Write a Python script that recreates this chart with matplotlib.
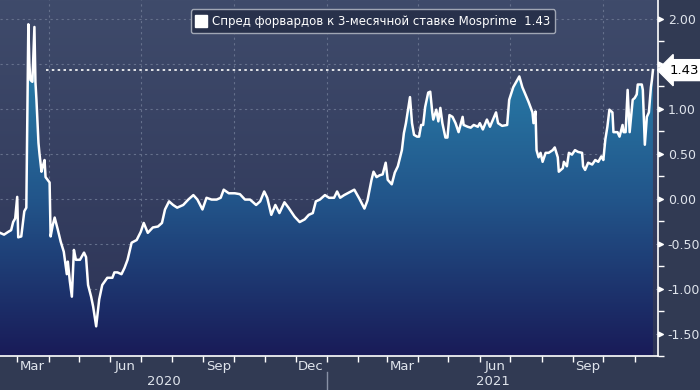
# Forward spread vs 3-month Mosprime, Bloomberg-style area chart
import numpy as np
import pandas as pd
import matplotlib
matplotlib.use('Agg')
import matplotlib.pyplot as plt
import matplotlib.dates as mdates
from matplotlib.colors import LinearSegmentedColormap
from matplotlib.transforms import blended_transform_factory
from matplotlib.lines import Line2D
from matplotlib.patches import Polygon

dates = [
    '2020-02-13', '2020-02-17', '2020-02-21', '2020-02-24', '2020-02-26', '2020-02-28',
    '2020-03-01', '2020-03-02', '2020-03-05', '2020-03-08', '2020-03-10', '2020-03-12',
    '2020-03-13', '2020-03-14', '2020-03-16', '2020-03-18', '2020-03-19', '2020-03-20',
    '2020-03-22', '2020-03-23', '2020-03-25', '2020-03-26', '2020-03-28', '2020-03-29',
    '2020-03-31', '2020-04-02', '2020-04-03', '2020-04-05', '2020-04-07', '2020-04-10',
    '2020-04-13', '2020-04-16', '2020-04-19', '2020-04-20', '2020-04-22', '2020-04-24',
    '2020-04-26', '2020-04-28', '2020-05-02', '2020-05-06', '2020-05-08', '2020-05-10',
    '2020-05-13', '2020-05-15', '2020-05-18', '2020-05-21', '2020-05-24', '2020-05-29',
    '2020-06-03', '2020-06-05', '2020-06-08', '2020-06-12', '2020-06-15', '2020-06-18',
    '2020-06-22', '2020-06-27', '2020-07-01', '2020-07-04', '2020-07-08', '2020-07-13',
    '2020-07-18', '2020-07-22', '2020-07-25', '2020-07-29', '2020-08-02', '2020-08-06',
    '2020-08-12', '2020-08-17', '2020-08-22', '2020-08-26', '2020-08-31', '2020-09-04',
    '2020-09-09', '2020-09-14', '2020-09-18', '2020-09-21', '2020-09-26', '2020-10-02',
    '2020-10-07', '2020-10-12', '2020-10-17', '2020-10-23', '2020-10-27', '2020-10-31',
    '2020-11-03', '2020-11-07', '2020-11-11', '2020-11-15', '2020-11-20', '2020-11-24',
    '2020-11-30', '2020-12-05', '2020-12-10', '2020-12-14', '2020-12-18', '2020-12-21',
    '2020-12-25', '2020-12-30', '2021-01-03', '2021-01-08', '2021-01-11', '2021-01-14',
    '2021-01-18', '2021-01-23', '2021-01-28', '2021-02-02', '2021-02-07', '2021-02-10',
    '2021-02-14', '2021-02-16', '2021-02-19', '2021-02-22', '2021-02-25', '2021-02-28',
    '2021-03-02', '2021-03-06', '2021-03-09', '2021-03-12', '2021-03-16', '2021-03-18',
    '2021-03-20', '2021-03-24', '2021-03-26', '2021-03-28', '2021-03-31', '2021-04-02',
    '2021-04-04', '2021-04-06', '2021-04-08', '2021-04-11', '2021-04-13', '2021-04-15',
    '2021-04-16', '2021-04-19', '2021-04-21', '2021-04-23', '2021-04-25', '2021-04-28',
    '2021-04-30', '2021-05-02', '2021-05-05', '2021-05-08', '2021-05-11', '2021-05-15',
    '2021-05-16', '2021-05-20', '2021-05-23', '2021-05-26', '2021-05-30', '2021-06-01',
    '2021-06-04', '2021-06-08', '2021-06-11', '2021-06-14', '2021-06-17', '2021-06-19',
    '2021-06-23', '2021-06-28', '2021-06-30', '2021-07-04', '2021-07-08', '2021-07-10',
    '2021-07-13', '2021-07-16', '2021-07-19', '2021-07-23', '2021-07-24', '2021-07-26',
    '2021-07-27', '2021-07-29', '2021-07-31', '2021-08-02', '2021-08-05', '2021-08-08',
    '2021-08-12', '2021-08-14', '2021-08-17', '2021-08-18', '2021-08-22', '2021-08-23',
    '2021-08-26', '2021-08-28', '2021-08-31', '2021-09-03', '2021-09-06', '2021-09-10',
    '2021-09-11', '2021-09-13', '2021-09-16', '2021-09-20', '2021-09-23', '2021-09-26',
    '2021-09-29', '2021-10-01', '2021-10-03', '2021-10-05', '2021-10-07', '2021-10-10',
    '2021-10-11', '2021-10-15', '2021-10-17', '2021-10-20', '2021-10-21', '2021-10-23',
    '2021-10-25', '2021-10-27', '2021-10-30', '2021-11-01', '2021-11-03', '2021-11-04',
    '2021-11-08', '2021-11-09', '2021-11-11', '2021-11-13', '2021-11-15', '2021-11-17',
    '2021-11-18', '2021-11-19',
]
values = [
    -0.38, -0.40, -0.37, -0.35, -0.26, -0.22,
    0.02, -0.43, -0.42, -0.14, -0.10, 1.94,
    1.50, 1.32, 1.30, 1.91, 1.30, 1.10,
    0.62, 0.50, 0.30, 0.35, 0.43, 0.24,
    0.21, 0.18, -0.42, -0.30, -0.21, -0.34,
    -0.48, -0.59, -0.84, -0.70, -0.92, -1.09,
    -0.57, -0.68, -0.68, -0.60, -0.65, -0.96,
    -1.09, -1.20, -1.42, -1.12, -0.96, -0.88,
    -0.88, -0.82, -0.82, -0.84, -0.77, -0.68,
    -0.49, -0.46, -0.37, -0.27, -0.38, -0.32,
    -0.31, -0.27, -0.12, -0.03, -0.07, -0.10,
    -0.07, -0.01, 0.04, -0.01, -0.12, 0.01,
    -0.01, -0.01, 0.01, 0.10, 0.06, 0.06,
    0.05, -0.01, -0.01, -0.07, -0.03, 0.08,
    0.01, -0.18, -0.07, -0.16, -0.04, -0.10,
    -0.20, -0.26, -0.23, -0.18, -0.16, -0.03,
    -0.01, 0.04, 0.01, 0.01, 0.08, 0.01,
    0.04, 0.07, 0.10, 0.00, -0.11, -0.02,
    0.21, 0.30, 0.24, 0.26, 0.27, 0.40,
    0.21, 0.16, 0.29, 0.36, 0.54, 0.73,
    0.84, 1.13, 0.84, 0.71, 0.69, 0.69,
    0.82, 0.82, 1.02, 1.18, 1.19, 0.96,
    0.88, 0.99, 0.86, 1.01, 0.84, 0.68,
    0.68, 0.93, 0.91, 0.84, 0.74, 0.91,
    0.82, 0.80, 0.79, 0.82, 0.80, 0.84,
    0.77, 0.88, 0.80, 0.88, 0.96, 0.84,
    0.81, 0.82, 1.10, 1.24, 1.32, 1.36,
    1.24, 1.16, 1.08, 0.96, 0.84, 0.97,
    0.54, 0.46, 0.51, 0.41, 0.51, 0.51,
    0.54, 0.57, 0.46, 0.30, 0.34, 0.41,
    0.36, 0.51, 0.49, 0.54, 0.52, 0.51,
    0.36, 0.32, 0.40, 0.38, 0.43, 0.41,
    0.47, 0.43, 0.66, 0.80, 0.99, 0.96,
    0.74, 0.74, 0.69, 0.82, 0.74, 0.74,
    1.21, 0.74, 1.10, 1.12, 1.16, 1.27,
    1.27, 1.21, 0.60, 0.91, 0.96, 1.24,
    1.32, 1.43,
]
series_name = 'Спред форвардов к 3-месячной ставке Mosprime'
last_value = values[-1]
y_ticks = [-1.5, -1.0, -0.5, 0.0, 0.5, 1.0, 1.5, 2.0]

x = pd.to_datetime(dates)
xn = mdates.date2num(x)
x_start = mdates.date2num(pd.Timestamp('2020-02-13'))
x_end = mdates.date2num(pd.Timestamp('2021-11-24'))
y_min, y_max = -1.745, 2.21

fig_bg = '#313a53'
text_col = '#dfe4ec'
fig = plt.figure(figsize=(7, 3.9), dpi=100, facecolor=fig_bg)
ax = fig.add_axes([0, 34 / 390, 658 / 700, 356 / 390])
ax.set_facecolor('#363f5e')

# background gradient
bg_cmap = LinearSegmentedColormap.from_list('bg', ['#2c3356', '#3f4b6b'])
grad = np.linspace(0, 1, 256).reshape(-1, 1)
ax.imshow(grad, extent=[x_start, x_end, y_min, y_max], origin='lower',
          aspect='auto', cmap=bg_cmap, zorder=0)

# area gradient clipped to the series
fill_cmap = LinearSegmentedColormap.from_list(
    'fill', [(0.0, '#191b58'), (0.44, '#22558a'), (1.0, '#2b8fb6')])
im = ax.imshow(grad, extent=[x_start, x_end, y_min, y_max], origin='lower',
               aspect='auto', cmap=fill_cmap, zorder=2)
verts = np.column_stack([np.r_[xn[0], xn, xn[-1]], np.r_[y_min, values, y_min]])
clip = Polygon(verts, closed=True, transform=ax.transData, facecolor='none', edgecolor='none')
ax.add_patch(clip)
im.set_clip_path(clip)

# grid
grid_col = '#65708c'
for yv in y_ticks:
    ax.axhline(yv, color=grid_col, lw=0.8, ls=(0, (2, 3)), zorder=1)
for d in ['2020-04-01', '2020-07-01', '2020-10-01', '2021-01-01',
          '2021-04-01', '2021-07-01', '2021-10-01']:
    ax.axvline(pd.Timestamp(d), color=grid_col, lw=0.8, ls=(0, (2, 3)), zorder=1)

ax.plot(x, values, color='white', lw=1.8, zorder=4)

# last value reference line
ax.plot([pd.Timestamp('2020-03-29'), x[-1]], [last_value, last_value],
        color='white', lw=1.2, ls=(0, (1.5, 2)), zorder=3)

ax.set_xlim(x_start, x_end)
ax.set_ylim(y_min, y_max)

for s in ['top', 'left']:
    ax.spines[s].set_visible(False)
ax.spines['bottom'].set_color('white')
ax.spines['right'].set_color('white')
ax.spines['bottom'].set_linewidth(1.2)
ax.spines['right'].set_linewidth(1.2)

# y axis on the right
ax.yaxis.tick_right()
ax.set_yticks(y_ticks)
ax.set_yticklabels([f'{v:.2f}' for v in y_ticks])
ax.set_yticks(np.arange(-1.75, 2.01, 0.25), minor=True)
ax.tick_params(axis='y', which='major', length=0, pad=7, labelsize=9, labelcolor=text_col)
ax.tick_params(axis='y', which='minor', length=4, width=1, color='white', direction='out')
trans_y = blended_transform_factory(ax.transAxes, ax.transData)
ax.plot([1.0] * len(y_ticks), y_ticks, ls='none', transform=trans_y, clip_on=False,
        marker=[(0, -1), (0, 1), (2, 0), (0, -1)], markersize=7, color='white', zorder=5)

# x axis: month ticks, quarter labels in the middle of the month
ax.xaxis.set_major_locator(mdates.MonthLocator())
ax.xaxis.set_major_formatter(plt.NullFormatter())
ax.xaxis.set_minor_locator(mdates.MonthLocator(bymonth=[3, 6, 9, 12], bymonthday=16))
ax.xaxis.set_minor_formatter(mdates.DateFormatter('%b'))
ax.tick_params(axis='x', which='major', length=4, width=1, color='white', direction='out')
ax.tick_params(axis='x', which='minor', length=0, pad=3, labelsize=9.5, labelcolor=text_col)

trans_x = blended_transform_factory(ax.transData, ax.transAxes)
yr_split = mdates.date2num(pd.Timestamp('2021-01-01'))
ax.plot([yr_split, yr_split], [-0.045, -0.1], color='#8891a6', lw=1,
        transform=trans_x, clip_on=False)
ax.text((x_start + yr_split) / 2, -0.073, '2020', transform=trans_x, ha='center',
        va='center', fontsize=9.5, color=text_col)
ax.text((yr_split + x_end) / 2, -0.073, '2021', transform=trans_x, ha='center',
        va='center', fontsize=9.5, color=text_col)

# last value tag (covers the 1.50 label, as in the terminal chart)
ax.annotate(f'{last_value:.2f}', xy=(1.0, last_value), xycoords=trans_y,
            xytext=(8, 0), textcoords='offset points', ha='left', va='center',
            fontsize=9.5, color='black', annotation_clip=False, zorder=6,
            bbox=dict(boxstyle='larrow,pad=0.3', fc='white', ec='white'))

# legend
handle = Line2D([], [], ls='none', marker='s', markersize=8, color='white')
leg = ax.legend([handle], [f'{series_name}  {last_value:.2f}'], loc='upper center',
                bbox_to_anchor=(0.567, 0.99), fontsize=8.5, frameon=True,
                fancybox=True, handlelength=0.8, handletextpad=0.5,
                borderpad=0.45, labelcolor='white')
leg.get_frame().set_facecolor('#28314b')
leg.get_frame().set_edgecolor('#a0a6b4')
leg.get_frame().set_alpha(1)
leg.set_zorder(7)

fig.savefig('out.png', dpi=100, facecolor=fig_bg)
